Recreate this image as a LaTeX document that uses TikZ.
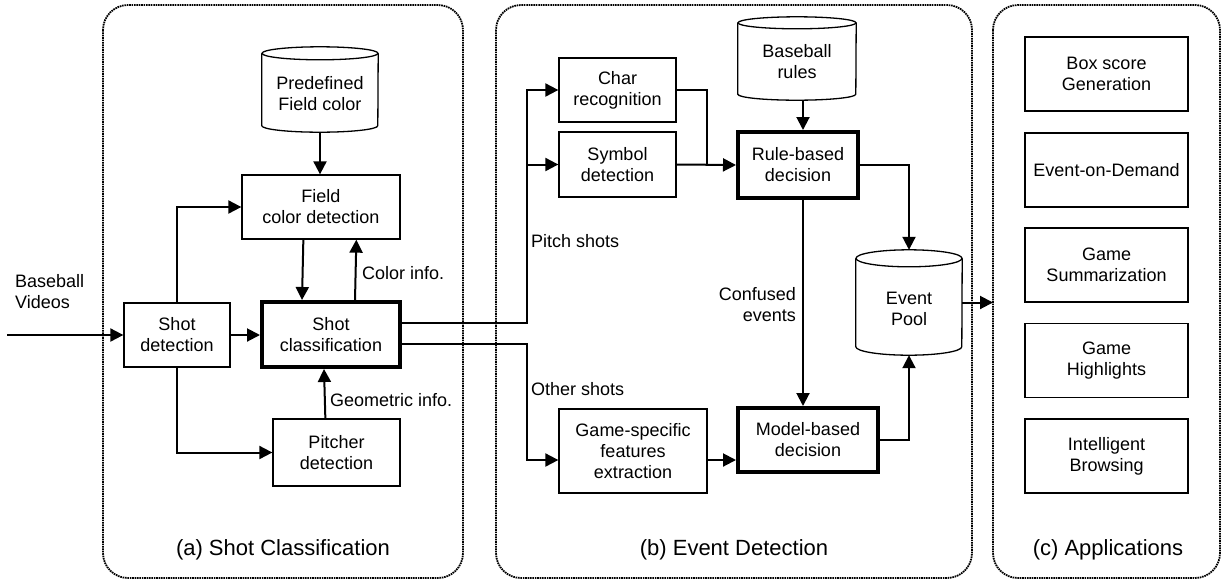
\documentclass[tikz,border=0pt]{standalone}
\usepackage{fontspec}
\setmainfont{Liberation Sans}
\usetikzlibrary{arrows.meta,calc}
\newcommand\drawcyl[3]{%
  \draw[line width=1.3pt] ($(#1.north west)+(0,#3)$) -- ($(#1.south west)+(0,-#3)$)
    arc[start angle=180, end angle=0, x radius=#2, y radius=#3]
    -- ($(#1.north east)+(0,#3)$);
  \draw[line width=1.3pt] ($(#1.north)+(0,#3)$) ellipse[x radius=#2, y radius=#3];}
\begin{document}
\begin{tikzpicture}[x=1pt,y=-1pt,
  every node/.style={font=\fontsize{18}{21}\selectfont},
  box/.style={draw, line width=1.3pt, align=center, inner sep=0pt},
  thickbox/.style={box, line width=4pt},
  dbtext/.style={inner sep=0pt},
  txt/.style={inner sep=0pt},
  conn/.style={line width=2pt},
  arr/.style={conn, -{Triangle[length=13pt,width=13pt]}},
  panel/.style={dash pattern=on 1.6pt off 0.8pt, line width=1.8pt, rounded corners=25pt},
  lbl/.style={inner sep=0pt, font=\fontsize{22}{26}\selectfont}]
\useasboundingbox (0,0) rectangle (1225,582);

% panels
\draw[panel] (103,5) rectangle (463,578);
\draw[panel] (496,5) rectangle (972,578);
\draw[panel] (993,5) rectangle (1220,578);
\node[lbl] (la) at (283,550) {(a) Shot Classification};
\node[lbl] (lb) at (734,550) {(b) Event Detection};
\node[lbl] (lc) at (1108,550) {(c) Applications};

% panel a
\node[dbtext, minimum width=116, minimum height=85,
  label={[yshift=-4.5pt, align=center, inner sep=0pt]center:Predefined\\Field color}] (pfc) at (320,89.5) {};
\drawcyl{pfc}{58}{6.5}
\node[box, minimum width=158, minimum height=64] (fcd) at (321,207) {Field\\color detection};
\node[box, minimum width=106, minimum height=64] (sd) at (177,335) {Shot\\detection};
\node[thickbox, minimum width=138, minimum height=65] (sc) at (331,334.5) {Shot\\classification};
\node[box, minimum width=127, minimum height=67] (pd) at (336.5,452.5) {Pitcher\\detection};
\node[txt, anchor=west, align=left] (bv) at (15,292) {Baseball\\Videos};
\node[txt, anchor=west] (ci) at (362,273) {Color info.};
\node[txt, anchor=west] (gi) at (330,400) {Geometric info.};

\coordinate (vin) at (7,335);
\draw[arr] (vin) -- (sd.west);
\draw[arr] (sd.east) -- (sd.east -| sc.west);
\draw[arr] (sd.north) |- (fcd.west);
\draw[arr] (sd.south) |- (pd.west);
\draw[arr] (pfc.south) -- (pfc.south |- fcd.north);
\draw[arr] ($(fcd.south west)+(62,0)$) -- ($(sc.north west)+(42,0)$);
\draw[arr] ($(sc.north west)+(95,0)$) -- ($(fcd.south west)+(115,0)$);
\draw[arr] ($(pd.north west)+(53,0)$) -- ($(sc.south west)+(64,0)$);

% panel b
\node[box, minimum width=117, minimum height=64] (cr) at (617.5,90) {Char\\recognition};
\node[box, minimum width=117, minimum height=65] (symd) at (617.5,164.5) {Symbol\\detection};
\node[dbtext, minimum width=118, minimum height=83,
  label={[yshift=-3pt, align=center, inner sep=0pt]center:Baseball\\rules}] (br) at (797,58.5) {};
\drawcyl{br}{59}{6}
\node[thickbox, minimum width=120, minimum height=66] (rbd) at (798,165) {Rule-based\\decision};
\node[dbtext, minimum width=106, minimum height=105,
  label={[yshift=-6.5pt, align=center, inner sep=0pt]center:Event\\Pool}] (ep) at (909,302.5) {};
\drawcyl{ep}{53}{8.5}
\node[box, minimum width=148, minimum height=84] (gs) at (633,451) {Game-specific\\features\\extraction};
\node[thickbox, minimum width=140, minimum height=64] (mbd) at (808,440) {Model-based\\decision};
\node[txt, anchor=west] (ps) at (531,241) {Pitch shots};
\node[txt, anchor=west] (os) at (531,389) {Other shots};
\node[txt, anchor=east, align=right] (ce) at (796,305) {Confused\\events};

\coordinate (pj) at (527,164.5);
\coordinate (oj) at (527,460);
\coordinate (mj) at (707,164.5);
\draw[conn] ($(sc.east)+(0,-11.5)$) -| (pj);
\draw[arr] (pj) |- (cr.west);
\draw[arr] (pj) -- (symd.west);
\draw[arr] ($(sc.east)+(0,9.5)$) -| (oj) -- (oj -| gs.west);
\draw[conn] (cr.east) -| (mj);
\draw[arr] (symd.east) -- (rbd.west);
\draw[arr] ($(br.south)+(6,0)$) -- ($(rbd.north)+(5,0)$);
\draw[arr] (rbd.east) -| (ep.north);
\draw[arr] ($(rbd.south)+(5,0)$) -- ($(mbd.north)+(-5,0)$);
\coordinate (gsout) at ($(gs.east)+(0,9)$);
\draw[arr] (gsout) -- (gsout -| mbd.west);
\draw[arr] (mbd.east) -| (ep.south);
\coordinate (appin) at (993,302.5);
\draw[arr] (ep.east) -- (appin);

% panel c
\node[box, minimum width=163, minimum height=74] (a1) at (1106.5,74) {Box score\\Generation};
\node[box, minimum width=163, minimum height=74] (a2) at (1106.5,170) {Event-on-Demand};
\node[box, minimum width=163, minimum height=74] (a3) at (1106.5,265) {Game\\Summarization};
\node[box, minimum width=163, minimum height=74] (a4) at (1106.5,360.5) {Game\\Highlights};
\node[box, minimum width=163, minimum height=74] (a5) at (1106.5,456) {Intelligent\\Browsing};
\end{tikzpicture}
\end{document}
